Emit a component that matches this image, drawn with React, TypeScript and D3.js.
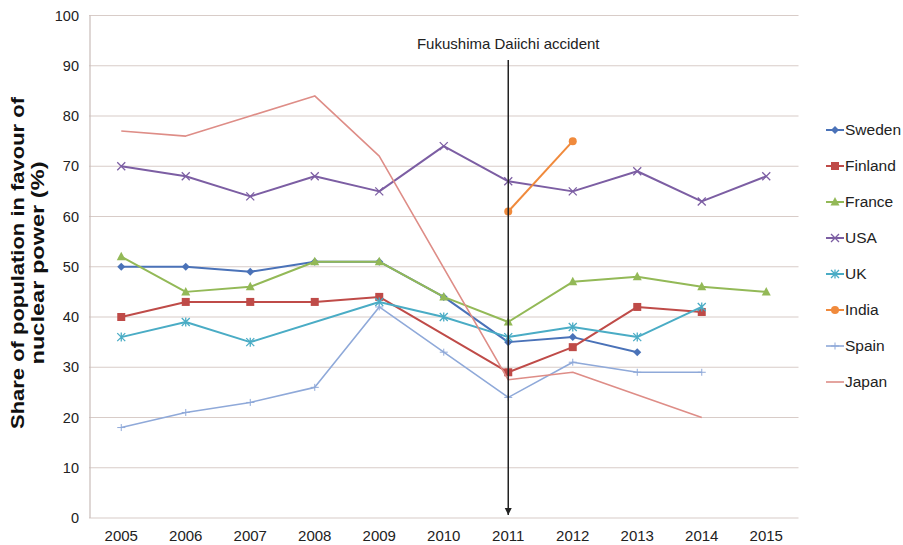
import React from "react";
import * as d3 from "d3";

const years = [2005, 2006, 2007, 2008, 2009, 2010, 2011, 2012, 2013, 2014, 2015];
const yTicks = [0, 10, 20, 30, 40, 50, 60, 70, 80, 90, 100];

type Pt = [number, number];
const sweden: Pt[] = [[2005, 50], [2006, 50], [2007, 49], [2008, 51], [2009, 51], [2010, 44], [2011, 35], [2012, 36], [2013, 33]];
const finland: Pt[] = [[2005, 40], [2006, 43], [2007, 43], [2008, 43], [2009, 44], [2011, 29], [2012, 34], [2013, 42], [2014, 41]];
const france: Pt[] = [[2005, 52], [2006, 45], [2007, 46], [2008, 51], [2009, 51], [2010, 44], [2011, 39], [2012, 47], [2013, 48], [2014, 46], [2015, 45]];
const usa: Pt[] = [[2005, 70], [2006, 68], [2007, 64], [2008, 68], [2009, 65], [2010, 74], [2011, 67], [2012, 65], [2013, 69], [2014, 63], [2015, 68]];
const uk: Pt[] = [[2005, 36], [2006, 39], [2007, 35], [2009, 43], [2010, 40], [2011, 36], [2012, 38], [2013, 36], [2014, 42]];
const india: Pt[] = [[2011, 61], [2012, 75]];
const spain: Pt[] = [[2005, 18], [2006, 21], [2007, 23], [2008, 26], [2009, 42], [2010, 33], [2011, 24], [2012, 31], [2013, 29], [2014, 29]];
const japan: Pt[] = [[2005, 77], [2006, 76], [2007, 80], [2008, 84], [2009, 72], [2011, 27.5], [2012, 29], [2014, 20]];

const seriesNames = ["Sweden", "Finland", "France", "USA", "UK", "India", "Spain", "Japan"];
const seriesData = [sweden, finland, france, usa, uk, india, spain, japan];
const seriesColors = ["#4a72b8", "#bf4b48", "#93b957", "#7c5ea3", "#4aacc5", "#f08a3c", "#8fa9d9", "#de8d87"];
const seriesMarkers = ["diamond", "square", "triangle", "x", "star", "circle", "plus", "none"];
const seriesWidths = [2, 2, 2, 2, 2, 2, 1.6, 1.6];

const W = 903, H = 545;
const plotLeft = 89, plotRight = 798.5, plotTop = 15.5, plotBottom = 518;

const FONT = "'Liberation Sans', Arial, sans-serif";

function Marker({ kind, x, y, color }: { kind: string; x: number; y: number; color: string }) {
  switch (kind) {
    case "diamond":
      return <path d={`M${x},${y - 4}L${x + 4},${y}L${x},${y + 4}L${x - 4},${y}Z`} fill={color} />;
    case "square":
      return <rect x={x - 4} y={y - 4} width={8} height={8} fill={color} />;
    case "triangle":
      return <path d={`M${x},${y - 5}L${x + 4.5},${y + 3.5}L${x - 4.5},${y + 3.5}Z`} fill={color} />;
    case "circle":
      return <circle cx={x} cy={y} r={4} fill={color} />;
    case "x":
      return <path d={`M${x - 4},${y - 4}L${x + 4},${y + 4}M${x - 4},${y + 4}L${x + 4},${y - 4}`} stroke={color} strokeWidth={1.3} />;
    case "star":
      return <path d={`M${x - 4},${y - 4}L${x + 4},${y + 4}M${x - 4},${y + 4}L${x + 4},${y - 4}M${x},${y - 4.5}L${x},${y + 4.5}`} stroke={color} strokeWidth={1.3} />;
    case "plus":
      return <path d={`M${x - 4},${y}L${x + 4},${y}M${x},${y - 3.5}L${x},${y + 3.5}`} stroke={color} strokeWidth={1} />;
    default:
      return null;
  }
}

export default function App() {
  const x = d3.scaleBand<number>().domain(years).range([plotLeft, plotRight]);
  const cx = (yr: number) => (x(yr) ?? 0) + x.bandwidth() / 2;
  const y = d3.scaleLinear().domain([0, 100]).range([plotBottom, plotTop]);
  const line = d3.line<Pt>().x((d) => cx(d[0])).y((d) => y(d[1]));

  const eventX = cx(2011);
  const legendX = 826;
  const legendY0 = 130;
  const legendStep = 36;

  return (
    <svg width={W} height={H} style={{ position: "absolute", left: 0, top: 0, background: "#fff" }}>
      <defs>
        <marker id="arrow" viewBox="0 0 10 10" refX="10" refY="5" markerWidth="7" markerHeight="9" orient="auto" markerUnits="userSpaceOnUse">
          <path d="M0,0L10,5L0,10Z" fill="#222" />
        </marker>
      </defs>
      {/* grid lines */}
      {yTicks.map((t) => (
        <line key={t} x1={plotLeft} x2={plotRight} y1={y(t)} y2={y(t)} stroke="#d8ccc8" strokeWidth={1.2} />
      ))}
      {/* y axis */}
      <line x1={plotLeft + 1} x2={plotLeft + 1} y1={plotTop} y2={plotBottom} stroke="#c9bdb9" strokeWidth={1.2} />
      {yTicks.map((t) => (
        <text key={t} x={79} y={y(t)} dy="0.35em" textAnchor="end" fontFamily={FONT} fontSize={14.5} fill="#222">
          {t}
        </text>
      ))}
      {/* x labels */}
      {years.map((yr) => (
        <text key={yr} x={cx(yr)} y={541} textAnchor="middle" fontFamily={FONT} fontSize={15} fill="#222">
          {yr}
        </text>
      ))}
      {/* y axis title */}
      <g transform={`translate(24,263) rotate(-90)`}>
        <text x={0} y={0} textAnchor="middle" fontFamily={FONT} fontSize={19} fontWeight="bold" fill="#111" textLength={332} lengthAdjust="spacingAndGlyphs">
          Share of population in favour of
        </text>
        <text x={0} y={20} textAnchor="middle" fontFamily={FONT} fontSize={19} fontWeight="bold" fill="#111" textLength={203} lengthAdjust="spacingAndGlyphs">
          nuclear power (%)
        </text>
      </g>
      {/* series */}
      {seriesData.map((data, i) => (
        <g key={seriesNames[i]}>
          <path d={line(data) ?? ""} fill="none" stroke={seriesColors[i]} strokeWidth={seriesWidths[i]} strokeLinejoin="round" />
          {data.map((d) => (
            <Marker key={d[0]} kind={seriesMarkers[i]} x={cx(d[0])} y={y(d[1])} color={seriesColors[i]} />
          ))}
        </g>
      ))}
      {/* event line */}
      <line x1={eventX} x2={eventX} y1={60} y2={515} stroke="#222" strokeWidth={1.5} markerEnd="url(#arrow)" />
      <text x={eventX} y={49} textAnchor="middle" fontFamily={FONT} fontSize={15} fill="#222">
        Fukushima Daiichi accident
      </text>
      {/* legend */}
      {seriesNames.map((name, i) => {
        const ly = legendY0 + i * legendStep;
        return (
          <g key={name}>
            <line x1={legendX} x2={legendX + 18} y1={ly} y2={ly} stroke={seriesColors[i]} strokeWidth={seriesWidths[i]} />
            <Marker kind={seriesMarkers[i]} x={legendX + 9} y={ly} color={seriesColors[i]} />
            <text x={legendX + 19} y={ly} dy="0.35em" fontFamily={FONT} fontSize={15.5} fill="#222">
              {name}
            </text>
          </g>
        );
      })}
    </svg>
  );
}
